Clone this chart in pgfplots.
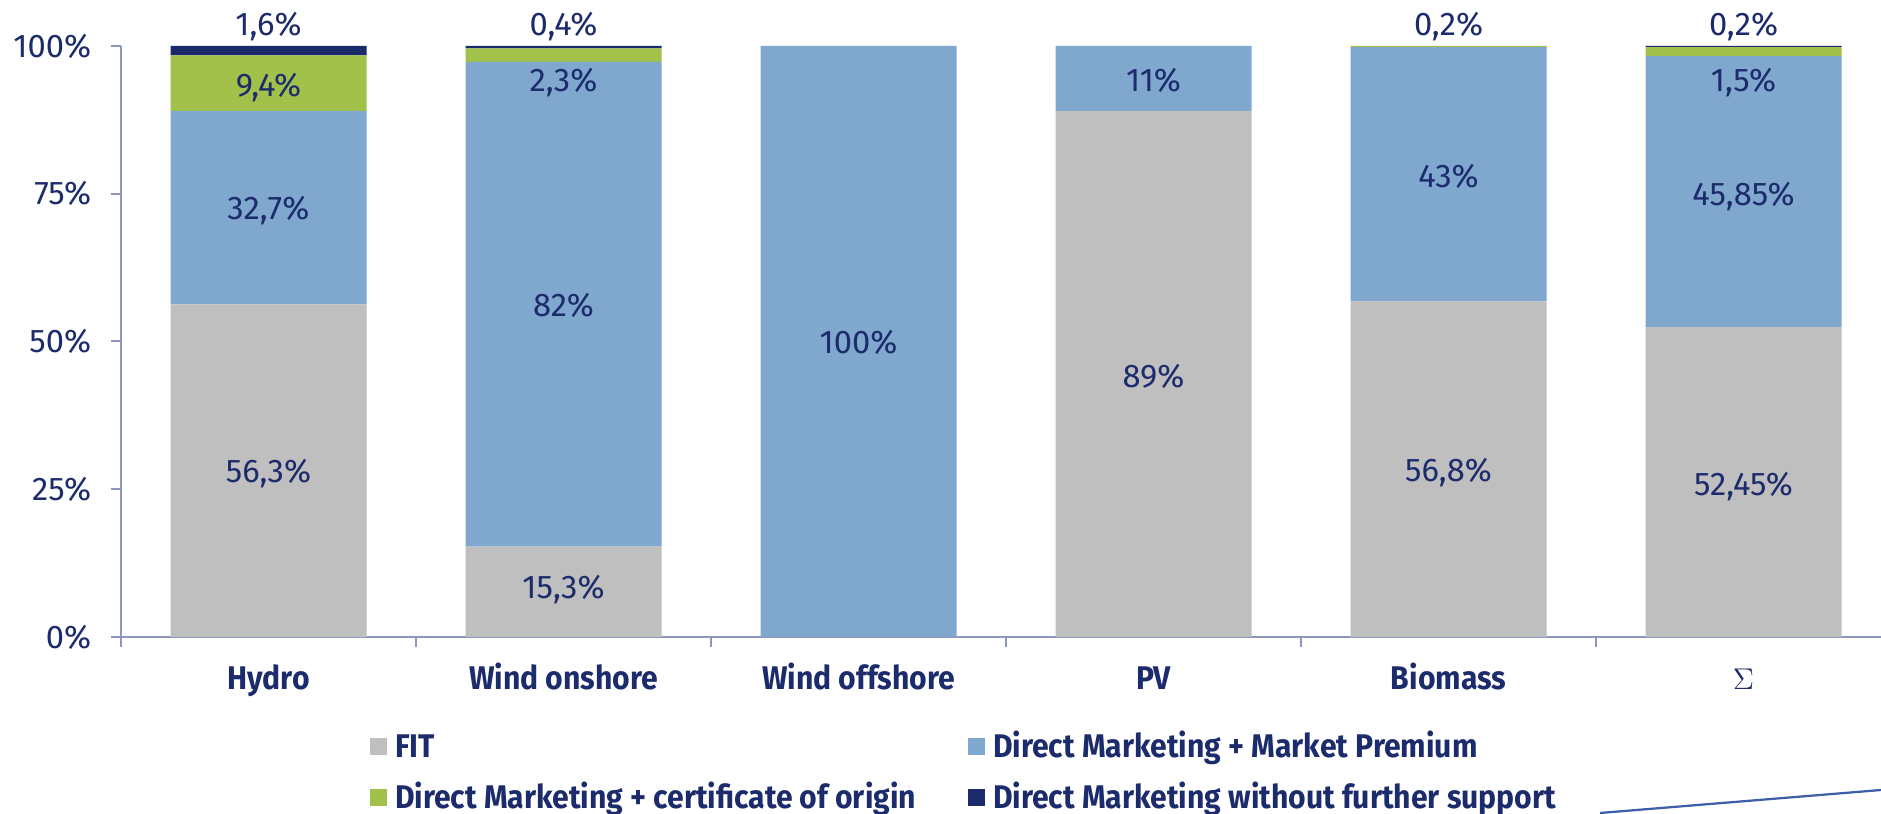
\documentclass[border=0pt]{standalone}
\usepackage{pgfplots}
\pgfplotsset{compat=1.18}
\usepackage{fontspec}
\setmainfont{Fira Sans}[BoldFeatures={FakeStretch=0.92}]
\definecolor{fitgray}{HTML}{BFBFBF}
\definecolor{dmblue}{HTML}{80A8CE}
\definecolor{certgreen}{HTML}{A2C14B}
\definecolor{navy}{HTML}{1B2A6B}
\definecolor{axisgray}{HTML}{8D96BC}
\definecolor{txt}{HTML}{1C2B6C}
\definecolor{deco}{HTML}{3C5FA8}
\tikzset{dl/.style={font=\fontsize{13.1}{16}\selectfont, text=txt, text height=9pt, text depth=0pt, inner sep=0pt, anchor=center}}
\newcommand\lgd[1]{\makebox[229.2pt][l]{#1}}
\begin{document}
\begin{tikzpicture}
\path[use as bounding box] (-48.4pt,-70.8pt) rectangle (704pt,254.8pt);
\begin{axis}[
  at={(0,0)}, anchor=south west,
  scale only axis, width=704pt, height=236.4pt,
  xmin=-0.5, xmax=5.466, ymin=0, ymax=100,
  ybar stacked, bar width=78.4pt,
  axis lines*=left,
  axis line style={axisgray, line width=0.8pt},
  clip=false,
  tick align=outside,
  xtick={0,1,2,3,4,5},
  xticklabels={Hydro, Wind onshore, Wind offshore, PV, Biomass, $\Sigma$},
  major x tick style={draw=none},
  minor xtick={-0.5,0.5,1.5,2.5,3.5,4.5},
  minor x tick style={axisgray, line width=0.8pt},
  minor tick length=4pt,
  major tick length=4pt,
  ytick={0,25,50,75,100},
  yticklabels={0\%,25\%,50\%,75\%,100\%},
  y tick style={axisgray, line width=0.8pt},
  yticklabel style={font=\fontsize{13.1}{16}\selectfont, text=txt, xshift=-4.4pt},
  xticklabel style={font=\bfseries\fontsize{13.1}{16}\selectfont, text=txt, anchor=base, yshift=-17.2pt},
  legend columns=2,
  legend image code/.code={\fill[#1] (0pt,1.1pt) rectangle (6.8pt,7.9pt);},
  legend style={at={(0.14148,-0.1641)}, anchor=north west, draw=none, fill=none,
    inner sep=0pt, outer sep=0pt, row sep=7.8pt, column sep=3.2pt,
    /tikz/every even column/.append style={column sep=0pt},
    cells={anchor=base west},
    nodes={inner sep=0pt, text height=9.6pt, text depth=3pt,
      font=\bfseries\fontsize{13.1}{16}\selectfont, text=txt}},
]
\addplot[fill=fitgray, draw=none] coordinates {(0,56.3) (1,15.3) (2,0) (3,89) (4,56.8) (5,52.45)};
\addplot[fill=dmblue, draw=none] coordinates {(0,32.7) (1,82) (2,100) (3,11) (4,43) (5,45.85)};
\addplot[fill=certgreen, draw=none] coordinates {(0,9.4) (1,2.3) (2,0) (3,0) (4,0.2) (5,1.5)};
\addplot[fill=navy, draw=none] coordinates {(0,1.6) (1,0.4) (2,0) (3,0) (4,0) (5,0.2)};
\legend{\lgd{FIT}, \lgd{Direct Marketing + Market Premium}, \lgd{Direct Marketing + certificate of origin}, \lgd{Direct Marketing without further support}}
\coordinate (a1) at (axis cs:0,28.0);
\coordinate (a2) at (axis cs:0,72.5);
\coordinate (a3) at (axis cs:0,93.4);
\coordinate (a4) at (axis cs:0,103.6);
\coordinate (b1) at (axis cs:1,8.5);
\coordinate (b2) at (axis cs:1,56.2);
\coordinate (b3) at (axis cs:1,94.2);
\coordinate (b4) at (axis cs:1,103.6);
\coordinate (c2) at (axis cs:2,49.9);
\coordinate (d1) at (axis cs:3,44.2);
\coordinate (d2) at (axis cs:3,94.2);
\coordinate (e1) at (axis cs:4,28.2);
\coordinate (e2) at (axis cs:4,78.0);
\coordinate (e4) at (axis cs:4,103.6);
\coordinate (f1) at (axis cs:5,25.8);
\coordinate (f2) at (axis cs:5,74.9);
\coordinate (f3) at (axis cs:5,94.2);
\coordinate (f4) at (axis cs:5,103.6);
\end{axis}
\node[dl] at (a1) {56,3\%};
\node[dl] at (a2) {32,7\%};
\node[dl] at (a3) {9,4\%};
\node[dl] at (a4) {1,6\%};
\node[dl] at (b1) {15,3\%};
\node[dl] at (b2) {82\%};
\node[dl] at (b3) {2,3\%};
\node[dl] at (b4) {0,4\%};
\node[dl] at (c2) {100\%};
\node[dl] at (d1) {89\%};
\node[dl] at (d2) {11\%};
\node[dl] at (e1) {56,8\%};
\node[dl] at (e2) {43\%};
\node[dl] at (e4) {0,2\%};
\node[dl] at (f1) {52,45\%};
\node[dl] at (f2) {45,85\%};
\node[dl] at (f3) {1,5\%};
\node[dl] at (f4) {0,2\%};
\draw[deco, line width=0.9pt] (591.6pt,-70.4pt) -- (704pt,-61.2pt);
\end{tikzpicture}
\end{document}
